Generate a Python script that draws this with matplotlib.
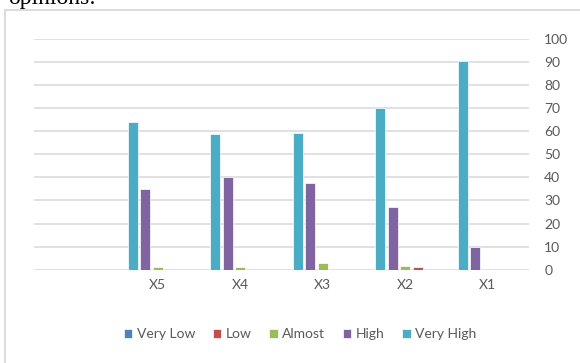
import matplotlib
matplotlib.use("Agg")
import matplotlib.pyplot as plt
import numpy as np
from matplotlib.patches import Rectangle

categories = ["X5", "X4", "X3", "X2", "X1"]
very_low = [0, 0, 0, 0, 0]
low = [0, 0, 0, 1.2, 0]
almost = [1, 1, 2.9, 1.6, 0]
high = [35, 40, 37.7, 27.3, 9.7]
very_high = [64, 59, 59.4, 69.9, 90.3]

series_names = ["Very Low", "Low", "Almost", "High", "Very High"]
series_values = [very_low, low, almost, high, very_high]
colors = ["#4F81BD", "#C0504D", "#9BBB59", "#8064A2", "#4BACC6"]

W, H = 580, 363
fig = plt.figure(figsize=(W / 100, H / 100), dpi=100)
fig.patch.set_facecolor("white")

# chart frame
fig.patches.append(Rectangle((4.5 / W, -0.1), 1.2, (H - 9.5) / H + 0.1,
                             transform=fig.transFigure, fill=False,
                             edgecolor="#D9D9D9", linewidth=1.3, zorder=0))
# caption text from the page above the chart
fig.text(8 / W, 1 - 4 / H, "opinions:", family="Liberation Serif",
         fontsize=17, va="baseline", ha="left", color="black")

ax = fig.add_axes([34 / W, 1 - 269.7 / H, (529 - 34) / W, (269.7 - 39) / H])
x = np.arange(len(categories))
step = 0.1515
width = 0.121
# bars drawn right-to-left in series order (Very High leftmost)
for i, (name, vals, c) in enumerate(zip(series_names, series_values, colors)):
    offset = (2 - i) * step
    ax.bar(x + offset, vals, width=width, color=c, edgecolor="white",
           linewidth=0.5, label=name, zorder=3)

ax.set_xlim(-1.5, len(categories) - 0.5)
ax.set_ylim(0, 100)
ax.set_yticks(np.arange(0, 101, 10))
ax.yaxis.tick_right()
ax.tick_params(axis="y", length=0, pad=11, labelsize=10, labelcolor="#595959")
for lbl in ax.get_yticklabels():
    lbl.set_horizontalalignment("left")
    lbl.set_family("Lato")
ax.set_xticks(x)
ax.set_xticklabels(categories, family="Lato", fontsize=10, color="#595959")
ax.tick_params(axis="x", length=0, pad=7)
ax.grid(axis="y", color="#D9D9D9", linewidth=1.1, zorder=0)
ax.set_axisbelow(True)
for s in ax.spines.values():
    s.set_visible(False)

leg = fig.legend(loc="center", bbox_to_anchor=(300 / W, 1 - 334 / H), ncol=5,
                 frameon=False, prop={"family": "Lato", "size": 10},
                 handlelength=0.6, handleheight=0.6, handletextpad=0.3,
                 columnspacing=1.3, labelcolor="#595959")

fig.savefig("out.png", dpi=100, facecolor="white")
